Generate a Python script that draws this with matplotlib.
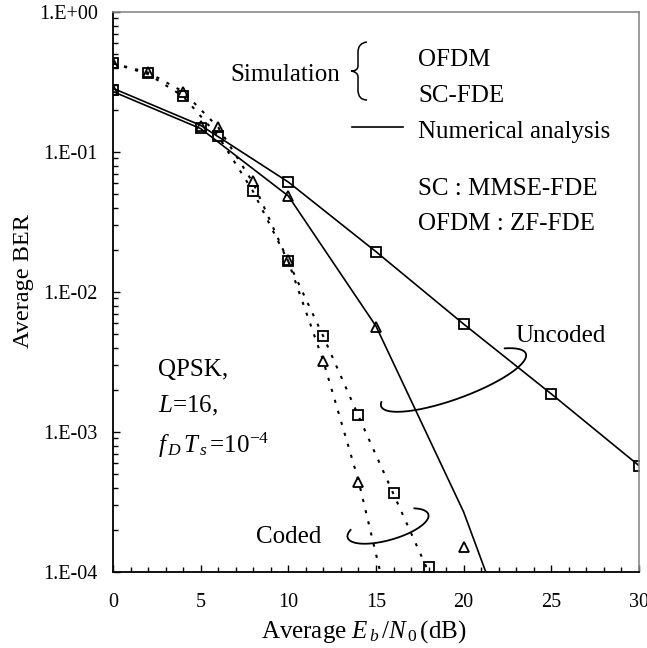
import numpy as np
import matplotlib
matplotlib.use('Agg')
import matplotlib.pyplot as plt
from matplotlib.path import Path
from matplotlib.patches import PathPatch
from matplotlib.ticker import FixedLocator, MultipleLocator, LogLocator, NullFormatter

plt.rcParams['font.family'] = ['Liberation Serif', 'DejaVu Serif']
plt.rcParams['mathtext.fontset'] = 'custom'
plt.rcParams['mathtext.rm'] = 'Liberation Serif'
plt.rcParams['mathtext.it'] = 'Liberation Serif:italic'
plt.rcParams['mathtext.bf'] = 'Liberation Serif:bold'

# ---------------- data ----------------
# Uncoded, SC-FDE (MMSE) : simulation squares and numerical analysis
snr_unc_sc = [0, 5, 10, 15, 20, 25, 30]
ber_unc_sc_sim = [0.275, 0.149, 0.061, 0.0194, 0.0059, 0.00187, 5.75e-4]
ber_unc_sc_ana = [0.285, 0.155, 0.061, 0.0194, 0.0059, 0.00187, 5.75e-4]

# Uncoded, OFDM (ZF) : simulation triangles and numerical analysis
snr_unc_ofdm_sim = [0, 5, 10, 15, 20]
ber_unc_ofdm_sim = [0.275, 0.153, 0.0485, 0.0056, 1.52e-4]
snr_unc_ofdm_ana = [0, 5, 10, 15, 20, 25]
ber_unc_ofdm_ana = [0.27, 0.147, 0.0485, 0.0057, 2.68e-4, 5.4e-6]

# Coded, SC-FDE : simulation squares and numerical analysis (dotted)
snr_cod_sc_sim = [0, 2, 4, 6, 8, 10, 12, 14, 16, 18]
ber_cod_sc_sim = [0.43, 0.365, 0.252, 0.131, 0.0526, 0.0167, 0.00485, 0.00132, 3.65e-4, 1.09e-4]
snr_cod_sc_ana = [0, 2, 4, 6, 8, 10, 12, 14, 16, 18, 20]
ber_cod_sc_ana = [0.43, 0.36, 0.25, 0.13, 0.052, 0.0165, 0.0048, 0.0013, 3.6e-4, 1.0e-4, 2.6e-5]

# Coded, OFDM : simulation triangles and numerical analysis (dotted)
snr_cod_ofdm_sim = [0, 2, 4, 6, 8, 10, 12, 14]
ber_cod_ofdm_sim = [0.43, 0.37, 0.267, 0.151, 0.062, 0.017, 0.0032, 4.4e-4]
snr_cod_ofdm_ana = [0, 2, 4, 6, 8, 10, 12, 14, 16]
ber_cod_ofdm_ana = [0.43, 0.37, 0.27, 0.15, 0.06, 0.0165, 0.0032, 4.5e-4, 4.0e-5]

x_ticks = [0, 5, 10, 15, 20, 25, 30]
y_ticks = [1e0, 1e-1, 1e-2, 1e-3, 1e-4]
y_tick_labels = ['1.E+00', '1.E-01', '1.E-02', '1.E-03', '1.E-04']

# ---------------- figure ----------------
fig = plt.figure(figsize=(6.47, 6.48), dpi=100)
L, R, T, B = 113, 639, 12, 572
W, H = 647, 648
ax = fig.add_axes([L / W, 1 - B / H, (R - L) / W, (B - T) / H])


def P(px, py):
    return ((px - L) / (R - L), (B - py) / (B - T))


lw = 1.2
mk = dict(color='black', mfc='none', mew=1.3, linestyle='none')
dot = (0, (1.5, 4))

# numerical analysis lines
ax.plot(snr_unc_sc, ber_unc_sc_ana, color='black', lw=lw)
ax.plot(snr_unc_ofdm_ana, ber_unc_ofdm_ana, color='black', lw=lw)
ax.plot(snr_cod_sc_ana, ber_cod_sc_ana, color='black', lw=1.5, linestyle=dot)
ax.plot(snr_cod_ofdm_ana, ber_cod_ofdm_ana, color='black', lw=1.5, linestyle=dot)

# simulation markers
ax.plot(snr_unc_sc, ber_unc_sc_sim, marker='s', ms=7, **mk)
ax.plot(snr_unc_ofdm_sim, ber_unc_ofdm_sim, marker='^', ms=7.5, **mk)
ax.plot(snr_cod_sc_sim, ber_cod_sc_sim, marker='s', ms=7, **mk)
ax.plot(snr_cod_ofdm_sim, ber_cod_ofdm_sim, marker='^', ms=7.5, **mk)

ax.set_xlim(0, 30)
ax.set_yscale('log')
ax.set_ylim(1e-4, 1)

ax.xaxis.set_major_locator(FixedLocator(x_ticks))
ax.xaxis.set_minor_locator(MultipleLocator(1))
ax.set_xticklabels([str(v) for v in x_ticks])
ax.yaxis.set_major_locator(FixedLocator(y_ticks))
ax.set_yticklabels(y_tick_labels)
ax.yaxis.set_minor_locator(LogLocator(base=10, subs=np.arange(2, 10)))
ax.yaxis.set_minor_formatter(NullFormatter())

ax.tick_params(axis='x', which='major', direction='in', length=5, width=1.0,
               labelsize=14.5, pad=15, top=False)
ax.tick_params(axis='x', which='minor', direction='in', length=3.5, width=1.0, top=False)
ax.tick_params(axis='y', which='major', direction='in', length=5, width=1.0,
               labelsize=14.5, pad=11, right=False)
ax.tick_params(axis='y', which='minor', direction='in', length=3.5, width=1.0, right=False)

for s in ['left', 'bottom']:
    ax.spines[s].set_color('black')
    ax.spines[s].set_linewidth(1.3)
for s in ['top', 'right']:
    ax.spines[s].set_color('#8a8a8a')
    ax.spines[s].set_linewidth(1.2)

ax.set_ylabel('Average BER', fontsize=17.5)
ax.yaxis.set_label_coords(-0.15, 0.52)

# x-axis label
ax.set_xlabel(r'Average $E_{\,b}\,/N_{\,0}\,$(dB)', fontsize=18)
ax.xaxis.set_label_coords(0.477, -0.083)

# ---------------- annotations ----------------
fs = 18
kw = dict(transform=ax.transAxes, fontsize=fs, ha='left', va='baseline')
ax.text(*P(230, 81), 'Simulation', **kw)
ax.text(*P(418, 66), 'OFDM', **kw)
ax.text(*P(418, 102), 'SC-FDE', **kw)
ax.text(*P(418, 138), 'Numerical analysis', **kw)
ax.text(*P(418, 195), 'SC : MMSE-FDE', **kw)
ax.text(*P(418, 230), 'OFDM : ZF-FDE', **kw)
ax.text(*P(515, 342), 'Uncoded', **kw)
ax.text(*P(256, 543), 'Coded', **kw)
ax.text(*P(158, 376), 'QPSK,', **kw)
ax.text(*P(158, 412), r'$L$=16,', **kw)
ax.text(*P(158, 453), r'$f_{\,D}\,T_{\,s}\,$=10$^{-4}$', **kw)

# legend line for numerical analysis
x0, y0 = P(352, 127)
x1, _ = P(403, 127)
ax.plot([x0, x1], [y0, y0], color='black', lw=lw, transform=ax.transAxes, clip_on=False)

# curly brace for "Simulation"
brace_px = [(367, 42), (358, 43), (358, 52), (358, 66), (358, 71), (351, 71),
            (358, 72), (358, 77), (358, 90), (358, 100), (367, 100)]
codes = [Path.MOVETO, Path.CURVE3, Path.CURVE3, Path.LINETO, Path.CURVE3, Path.CURVE3,
         Path.CURVE3, Path.CURVE3, Path.LINETO, Path.CURVE3, Path.CURVE3]
brace = Path([P(*p) for p in brace_px], codes)
ax.add_patch(PathPatch(brace, fill=False, lw=1.1, color='black',
                       transform=ax.transAxes, clip_on=False))


def ellipse_arc(cx, cy, a, b, phi_deg, t0, t1):
    t = np.radians(np.linspace(t0, t1, 200))
    ph = np.radians(phi_deg)
    px = cx + a * np.cos(t) * np.cos(ph) - b * np.sin(t) * np.sin(ph)
    py = cy - (a * np.cos(t) * np.sin(ph) + b * np.sin(t) * np.cos(ph))
    fx = (px - L) / (R - L)
    fy = (B - py) / (B - T)
    ax.plot(fx, fy, color='black', lw=1.3, transform=ax.transAxes, clip_on=False)


ellipse_arc(453.5, 380, 77, 19, 20, -192, 40)
ellipse_arc(388, 526, 42, 14, 16, -208, 44)

fig.savefig('out.png', dpi=100)
